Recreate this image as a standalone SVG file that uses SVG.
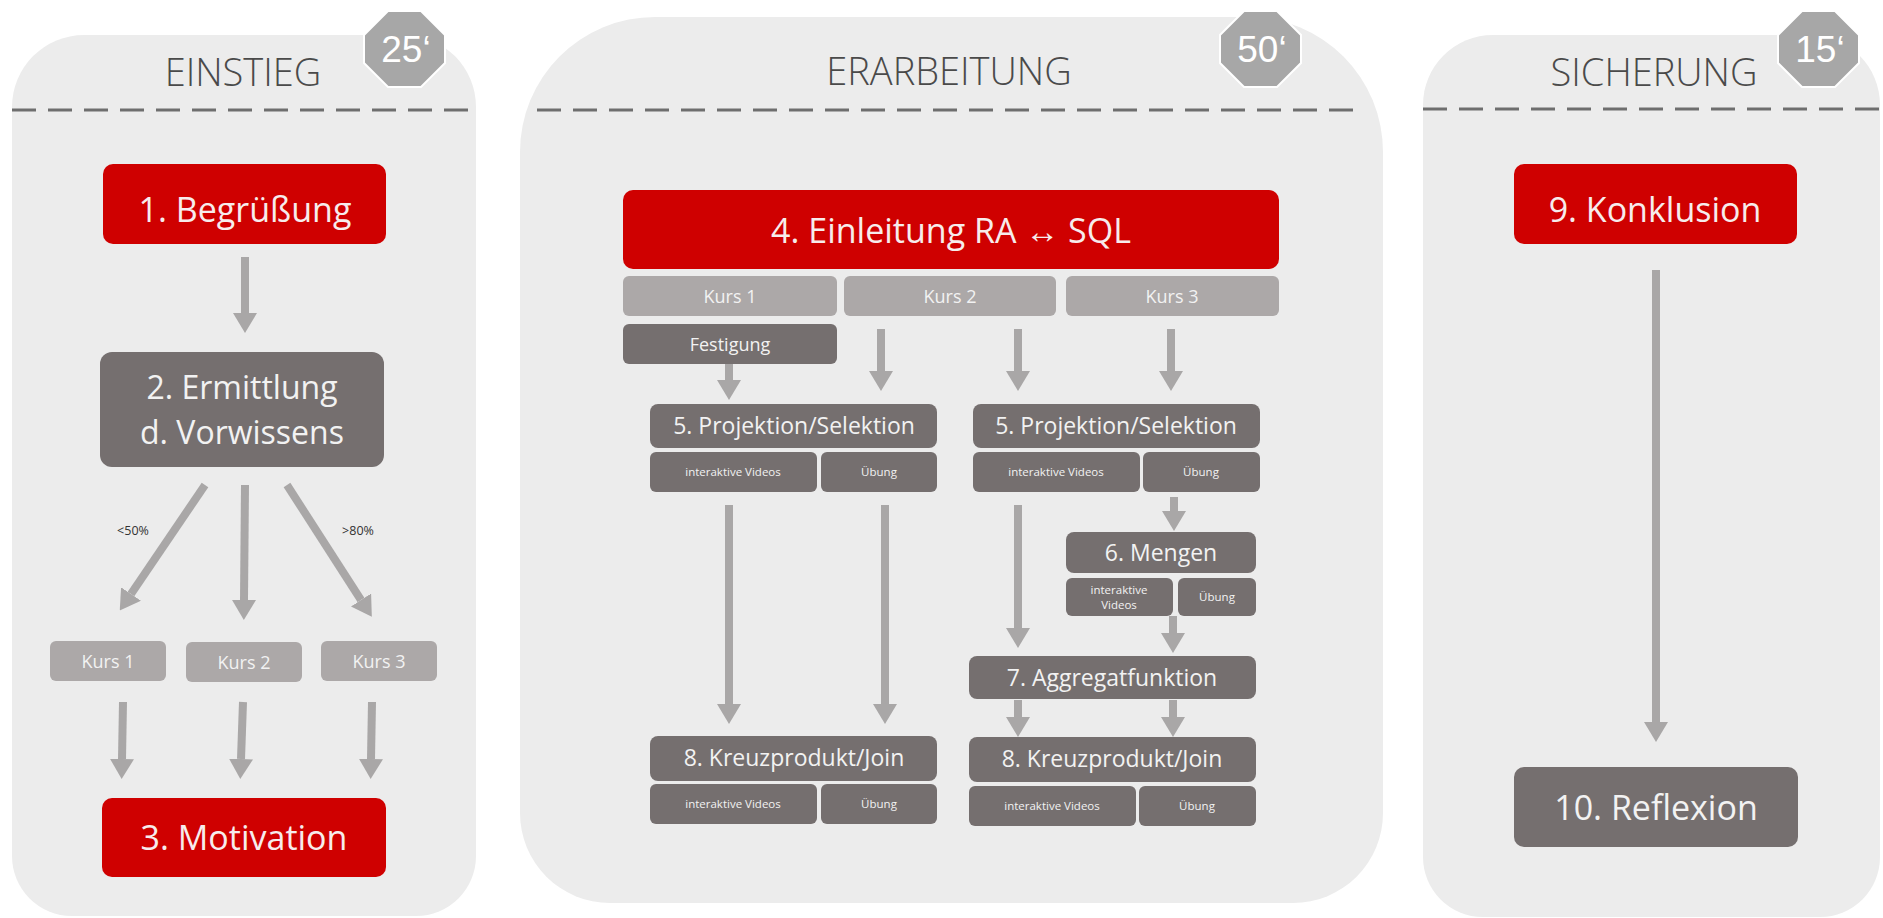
<svg xmlns="http://www.w3.org/2000/svg" xmlns:xlink="http://www.w3.org/1999/xlink" width="1883" height="918" viewBox="0 0 1883 918">
<style>
  text { font-family: "Open Sans", "Liberation Sans", sans-serif; text-anchor: middle; }
  .panel { fill: #ececec; }
  .dash { stroke: #6e6e6e; stroke-width: 3; stroke-dasharray: 24 12; fill: none; }
  .title { font-size: 38px; fill: #4a4a4a; font-weight: 300; }
  .oct { fill: #a7a7a7; stroke: #ffffff; stroke-width: 2; }
  .octt { font-family: "Liberation Sans", sans-serif; font-size: 37px; fill: #ffffff; }
  .red { fill: #cf0000; }
  .dark { fill: #756f6f; }
  .light { fill: #aca8a8; }
  .big { font-size: 34px; fill: #f7ecec; }
  .bigd { font-size: 34px; fill: #f2f2f2; }
  .two { font-size: 32px; fill: #f2f2f2; }
  .mid { font-size: 23px; fill: #f2f2f2; }
  .kurs { font-size: 18px; fill: #f2f2f2; }
  .small { font-size: 11.5px; fill: #f2f2f2; }
  .lbl { font-size: 12.5px; fill: #333333; }
  .arr { stroke: #a9a7a7; stroke-width: 8; fill: none; marker-end: url(#ah); }
</style>
<defs>
  <marker id="ah" markerUnits="userSpaceOnUse" markerWidth="20" markerHeight="24" refX="0" refY="12" orient="auto">
    <path d="M0,0 L20,12 L0,24 Z" fill="#a9a7a7"/>
  </marker>
  <polygon id="octagon" points="24,0 57,0 81,24 81,52 57,76 24,76 0,52 0,24"/>
</defs>
<rect width="1883" height="918" fill="#ffffff"/>

<!-- Panels -->
<g id="panel-einstieg">
  <path class="panel" d="M84,35 H404 A72,72 0 0 1 476,107 V856 A60,60 0 0 1 416,916 H72 A60,60 0 0 1 12,856 V107 A72,72 0 0 1 84,35 Z"/>
  <line class="dash" x1="12" y1="110" x2="478" y2="110"/>
  <text class="title" x="243" y="86">EINSTIEG</text>
  <use href="#octagon" class="oct" x="364" y="11"/>
  <text class="octt" x="406" y="62">25‘</text>
</g>
<g id="panel-erarbeitung">
  <path class="panel" d="M655,17 H1248 A135,135 0 0 1 1383,152 V813 A90,90 0 0 1 1293,903 H610 A90,90 0 0 1 520,813 V152 A135,135 0 0 1 655,17 Z"/>
  <line class="dash" x1="537" y1="110" x2="1365" y2="110"/>
  <text class="title" x="949" y="85">ERARBEITUNG</text>
  <use href="#octagon" class="oct" x="1220" y="11"/>
  <text class="octt" x="1262" y="62">50‘</text>
</g>
<g id="panel-sicherung">
  <path class="panel" d="M1493,35 H1810 A70,70 0 0 1 1880,105 V857 A60,60 0 0 1 1820,917 H1483 A60,60 0 0 1 1423,857 V105 A70,70 0 0 1 1493,35 Z"/>
  <line class="dash" x1="1423" y1="109" x2="1883" y2="109"/>
  <text class="title" x="1654" y="86">SICHERUNG</text>
  <use href="#octagon" class="oct" x="1778" y="11"/>
  <text class="octt" x="1820" y="62">15‘</text>
</g>

<!-- Connectors -->
<g id="connectors">
  <line class="arr" x1="245" y1="257" x2="245" y2="313"/>
  <line class="arr" x1="205" y1="485" x2="131" y2="594"/>
  <line class="arr" x1="245" y1="485" x2="244" y2="600"/>
  <line class="arr" x1="287" y1="485" x2="361" y2="600"/>
  <line class="arr" x1="123" y1="702" x2="122" y2="759"/>
  <line class="arr" x1="243" y1="702" x2="241" y2="759"/>
  <line class="arr" x1="372" y1="702" x2="371" y2="759"/>

  <line class="arr" x1="729" y1="364" x2="729" y2="380"/>
  <line class="arr" x1="881" y1="329" x2="881" y2="371"/>
  <line class="arr" x1="1018" y1="329" x2="1018" y2="371"/>
  <line class="arr" x1="1171" y1="329" x2="1171" y2="371"/>
  <line class="arr" x1="729" y1="505" x2="729" y2="704"/>
  <line class="arr" x1="885" y1="505" x2="885" y2="704"/>
  <line class="arr" x1="1018" y1="505" x2="1018" y2="628"/>
  <line class="arr" x1="1174" y1="497" x2="1174" y2="511"/>
  <line class="arr" x1="1173" y1="616" x2="1173" y2="633"/>
  <line class="arr" x1="1018" y1="700" x2="1018" y2="717"/>
  <line class="arr" x1="1173" y1="700" x2="1173" y2="717"/>

  <line class="arr" x1="1656" y1="270" x2="1656" y2="722"/>
  <text class="lbl" x="133" y="535">&lt;50%</text>
  <text class="lbl" x="358" y="535">&gt;80%</text>
</g>

<!-- Nodes: Einstieg -->
<g id="n1">
  <rect class="red" x="103" y="164" width="283" height="80" rx="10"/>
  <text class="big" x="245" y="222">1. Begrüßung</text>
</g>
<g id="n2">
  <rect class="dark" x="100" y="352" width="284" height="115" rx="12"/>
  <text class="two" x="242" y="399">2. Ermittlung</text>
  <text class="two" x="242" y="444">d. Vorwissens</text>
</g>
<g id="k1a"><rect class="light" x="50" y="641" width="116" height="40" rx="6"/><text class="kurs" x="108" y="668">Kurs 1</text></g>
<g id="k2a"><rect class="light" x="186" y="642" width="116" height="40" rx="6"/><text class="kurs" x="244" y="669">Kurs 2</text></g>
<g id="k3a"><rect class="light" x="321" y="641" width="116" height="40" rx="6"/><text class="kurs" x="379" y="668">Kurs 3</text></g>
<g id="n3">
  <rect class="red" x="102" y="798" width="284" height="79" rx="10"/>
  <text class="big" x="244" y="850">3. Motivation</text>
</g>

<!-- Nodes: Erarbeitung -->
<g id="n4">
  <rect class="red" x="623" y="190" width="656" height="79" rx="10"/>
  <text class="big" x="951" y="243">4. Einleitung RA ↔ SQL</text>
</g>
<g id="k1b"><rect class="light" x="623" y="276" width="214" height="40" rx="6"/><text class="kurs" x="730" y="303">Kurs 1</text></g>
<g id="k2b"><rect class="light" x="844" y="276" width="212" height="40" rx="6"/><text class="kurs" x="950" y="303">Kurs 2</text></g>
<g id="k3b"><rect class="light" x="1066" y="276" width="213" height="40" rx="6"/><text class="kurs" x="1172" y="303">Kurs 3</text></g>
<g id="festigung"><rect class="dark" x="623" y="324" width="214" height="40" rx="6"/><text class="kurs" x="730" y="351">Festigung</text></g>

<g id="ps1">
  <rect class="dark" x="650" y="404" width="287" height="44" rx="8"/>
  <text class="mid" x="794" y="434">5. Projektion/Selektion</text>
  <rect class="dark" x="650" y="452" width="167" height="40" rx="6"/>
  <text class="small" x="733" y="476">interaktive Videos</text>
  <rect class="dark" x="821" y="452" width="116" height="40" rx="6"/>
  <text class="small" x="879" y="476">Übung</text>
</g>
<g id="ps2">
  <rect class="dark" x="973" y="404" width="287" height="44" rx="8"/>
  <text class="mid" x="1116" y="434">5. Projektion/Selektion</text>
  <rect class="dark" x="973" y="452" width="167" height="40" rx="6"/>
  <text class="small" x="1056" y="476">interaktive Videos</text>
  <rect class="dark" x="1143" y="452" width="117" height="40" rx="6"/>
  <text class="small" x="1201" y="476">Übung</text>
</g>
<g id="mengen">
  <rect class="dark" x="1066" y="532" width="190" height="41" rx="8"/>
  <text class="mid" x="1161" y="561">6. Mengen</text>
  <rect class="dark" x="1066" y="578" width="107" height="38" rx="6"/>
  <text class="small" x="1119" y="594">interaktive</text>
  <text class="small" x="1119" y="609">Videos</text>
  <rect class="dark" x="1178" y="578" width="78" height="38" rx="6"/>
  <text class="small" x="1217" y="601">Übung</text>
</g>
<g id="aggregat">
  <rect class="dark" x="969" y="656" width="287" height="43" rx="8"/>
  <text class="mid" x="1112" y="686">7. Aggregatfunktion</text>
</g>
<g id="kp1">
  <rect class="dark" x="650" y="736" width="287" height="45" rx="8"/>
  <text class="mid" x="794" y="766">8. Kreuzprodukt/Join</text>
  <rect class="dark" x="650" y="784" width="167" height="40" rx="6"/>
  <text class="small" x="733" y="808">interaktive Videos</text>
  <rect class="dark" x="821" y="784" width="116" height="40" rx="6"/>
  <text class="small" x="879" y="808">Übung</text>
</g>
<g id="kp2">
  <rect class="dark" x="969" y="737" width="287" height="45" rx="8"/>
  <text class="mid" x="1112" y="767">8. Kreuzprodukt/Join</text>
  <rect class="dark" x="969" y="786" width="167" height="40" rx="6"/>
  <text class="small" x="1052" y="810">interaktive Videos</text>
  <rect class="dark" x="1139" y="786" width="117" height="40" rx="6"/>
  <text class="small" x="1197" y="810">Übung</text>
</g>

<!-- Nodes: Sicherung -->
<g id="n9">
  <rect class="red" x="1514" y="164" width="283" height="80" rx="10"/>
  <text class="big" x="1655" y="222">9. Konklusion</text>
</g>
<g id="n10">
  <rect class="dark" x="1514" y="767" width="284" height="80" rx="10"/>
  <text class="bigd" x="1656" y="820">10. Reflexion</text>
</g>
</svg>
